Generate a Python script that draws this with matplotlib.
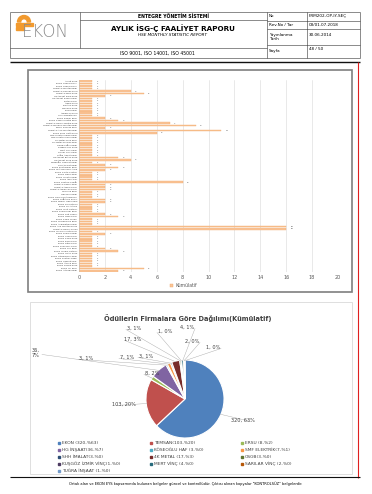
import math
import matplotlib
matplotlib.use("Agg")
import matplotlib.pyplot as plt
from matplotlib.patches import Rectangle, Wedge

W, H = 372, 494

# ---------------- data ----------------
team_labels = """Asfalt Ekibi
EKON Saha Ekibi 1
EKON Saha Ekibi 2
TEMSAN Montaj Ekibi
TEMSAN Kaynak Ekibi
TEMSAN Boru Ekibi
HG İnşaat Kalıp Ekibi
HG İnşaat Demir Ekibi
Beton Ekibi
İskele Ekibi
Elektrik Ekibi
Mekanik Ekibi
Boya Ekibi
İzolasyon Ekibi
Vinç Operatörleri
EKON Bakım Ekibi
EKON Kazan Montaj Ekibi
TEMSAN Türbin Montaj Ekibi
TEMSAN Mekanik Montaj Ekibi
ERSU Kaynak Ekibi
TEMSAN Ana Montaj Ekibi
EKON Boru Hattı Ekibi
SMF Elektrik Kablo Ekibi
SMF Elektrik Pano Ekibi
4K Metal Çelik Ekibi
4K Metal Kaynak Ekibi
OSGB Sağlık Ekibi
Kuşgöz Vinç Ekibi
Mert Vinç Ekibi
Sarılar Vinç Ekibi
Tuğra İnşaat Ekibi
HG İnşaat Beton Ekibi
HG İnşaat Saha Ekibi
Köseoğlu Hafriyat Ekibi
SHH İmalat Ekibi
EKON Enstrüman Ekibi
EKON Test Devreye Alma
EKON Kalite Kontrol
EKON Depo Ekibi
EKON Lojistik Ekibi
EKON İdari İşler
EKON Şantiye Şefliği
TEMSAN Kazan Ekibi
TEMSAN İskele Ekibi
TEMSAN İzolasyon Ekibi
Temizlik Ekibi
Güvenlik Ekibi
EKON Çelik Konstrüksiyon
EKON Soğutma Kulesi
EKON Kömür Hazırlama
EKON Kül Sistemi
EKON Su Arıtma
EKON Yakıt Sistemi
EKON Kompresör Ekibi
EKON Şalt Sahası
EKON Trafo Ekibi
EKON Kablo Tavası
EKON Topraklama Ekibi
EKON Aydınlatma Ekibi
EKON Ana Montaj Grubu
TEMSAN Türbin Grubu
EKON Yardımcı Sistemler
EKON Pompa Ekibi
EKON Vana Ekibi
EKON Kanal Ekibi
EKON Baca Ekibi
EKON Filtre Ekibi
EKON Konveyör Ekibi
EKON Silo Ekibi
EKON Yangın Sistemi
EKON HVAC Ekibi
EKON Otomasyon Ekibi
EKON Kontrol Odası
EKON Laboratuvar
EKON Atölye Ekibi
EKON Peyzaj Ekibi
EKON Yol Ekibi
EKON Altyapı Ekibi""".split("\n")

team_values = [1, 1, 1, 1, 4, 5, 2, 1, 1, 1, 1, 1, 1, 1, 1, 2, 3, 7, 9, 2,
               11, 6, 1, 1, 1, 1, 1, 1, 1, 1, 1, 3, 4, 1, 2, 3, 2, 1, 1, 1,
               1, 8, 2, 2, 2, 1, 1, 1, 2, 2, 1, 1, 1, 1, 2, 3, 1, 1, 1, 16,
               16, 1, 2, 1, 1, 1, 1, 1, 2, 3, 1, 1, 1, 1, 1, 1, 5, 3]

firms = ["EKON", "TEMSAN", "ERSU", "HG İNŞAAT", "KÖSEOĞLU HAF", "SMF ELEKTRİK",
         "SHH İMALAT", "4K METAL", "OSGB", "KUŞGÖZ İZMİR VİNÇ", "MERT VİNÇ",
         "SARILAR VİNÇ", "TUĞRA İNŞAAT"]
firm_values = [320, 103, 8, 36, 3, 7, 3, 17, 3, 1, 4, 2, 1]
firm_legend = ["EKON (320-%63)", "TEMSAN(103-%20)", "ERSU (8-%2)",
               "HG İNŞAAT(36-%7)", "KÖSEOĞLU HAF (3-%0)", "SMF ELEKTRİK(7-%1)",
               "SHH İMALAT(3-%0)", "4K METAL (17-%3)", "OSGB(3-%0)",
               "KUŞGÖZ İZMİR VİNÇ(1-%0)", "MERT VİNÇ (4-%0)", "SARILAR VİNÇ (2-%0)",
               "TUĞRA İNŞAAT (1-%0)"]
x_ticks = [0, 2, 4, 6, 8, 10, 12, 14, 16, 18, 20]

# ---------------- style / layout ----------------
pie_colors = ["#4F81BD", "#C0504D", "#9BBB59", "#8064A2", "#4BACC6", "#F79646",
              "#2C4D75", "#772C2A", "#5F7530", "#4D3B62", "#276A7C", "#B65708",
              "#729ACA"]
# label text centres (pixels) for pie data labels
pie_label_pos = [(243, 420), (124, 404), (152, 373), (36, 353), (86, 358),
                 (127, 357), (146, 356), (133, 339), (134, 328), (165, 331),
                 (187, 327), (192, 341), (213, 347)]

plt.rcParams['font.family'] = ['DejaVu Sans']

fig = plt.figure(figsize=(W / 100, H / 100), dpi=100)
fig.patch.set_facecolor("white")

page = fig.add_axes([0, 0, 1, 1], zorder=-5)
page.set_xlim(0, W)
page.set_ylim(H, 0)
page.axis("off")

def hline(y, x0, x1, c="#333333", lw=0.4):
    page.plot([x0, x1], [y, y], color=c, lw=lw, solid_capstyle="butt")

def vline(x, y0, y1, c="#333333", lw=0.4):
    page.plot([x, x], [y0, y1], color=c, lw=lw, solid_capstyle="butt")

# ---- header table ----
hline(12, 10, 360)
hline(58, 10, 360)
vline(10, 12, 58)
vline(360, 12, 58)
vline(80, 12, 48)
vline(267, 12, 58)
vline(307, 12, 58)
hline(20, 80, 267)
hline(48, 10, 267)
hline(21, 267, 360)
hline(29, 267, 360)
hline(45, 267, 360)

page.text(173, 16, "ENTEGRE YÖNETİM SİSTEMİ", ha="center", va="center",
          fontsize=3.3, fontweight="bold")
page.text(173, 28, "AYLIK İSG-Ç FAALİYET RAPORU", ha="center", va="center",
          fontsize=5.2, fontweight="bold")
page.text(173, 35, "HSE MONTHLY STATISTIC REPORT", ha="center", va="center",
          fontsize=3.0, style="italic")
page.text(157, 53, "ISO 9001, ISO 14001, ISO 45001", ha="center", va="center",
          fontsize=3.3)
for y, t in [(16, "No"), (25, "Rev.No / Tar"), (37, "Yayınlanma\nTarih"), (51, "Sayfa")]:
    page.text(269, y, t, ha="left", va="center", fontsize=3.0, linespacing=1.0)
for y, t in [(16, "FRM202-OP-IY-SEÇ"), (25, "03/01.07.2018"), (35, "30.06.2014"), (49, "48 / 50")]:
    page.text(309, y, t, ha="left", va="center", fontsize=3.0)

# logo
page.add_patch(Wedge((24, 22), 6.5, 180, 360, width=3.2, color="#F29A2E",
                     transform=page.transData))
page.add_patch(Rectangle((16, 23), 17, 2.6, color="#F29A2E"))
page.add_patch(Rectangle((16, 27.5), 8, 2.6, color="#F29A2E"))
page.text(22, 32, "EKON", ha="left", va="center", fontsize=12,
          color="#8C8C8C", fontweight="light")

# page separators
hline(62, 10, 360, c="#111111", lw=1.0)
vline(358, 62, 478, c="#E02020", lw=0.8)
hline(477, 10, 360, c="#111111", lw=0.8)
page.text(186, 484, "Ortak alan ve EKON EYS kapsamında bulunan belgeler güncel ve kontrollüdür. "
          "Çıktısı alınan kopyalar \"KONTROLSÜZ\" belgelerdir.",
          ha="center", va="center", fontsize=2.6)

# chart panels
page.add_patch(Rectangle((28, 70), 324, 222, fill=False, ec="#7F7F7F", lw=1.2))
page.add_patch(Rectangle((30, 302), 322, 172, fill=False, ec="#D9D9D9", lw=0.6))

# ---------------- bar chart ----------------
def px_axes(x0, y0, x1, y1, **kw):
    return fig.add_axes([x0 / W, 1 - y1 / H, (x1 - x0) / W, (y1 - y0) / H], **kw)

axb = px_axes(79, 80, 338, 272)
n = len(team_values)
ypos = list(range(n))
axb.barh(ypos, team_values, height=0.6, color="#FAC598", edgecolor="#F0A868",
         linewidth=0.25)
axb.set_xlim(0, 20)
axb.set_ylim(n - 0.5, -0.5)
axb.set_xticks(x_ticks)
axb.set_xticklabels([str(t) for t in x_ticks], fontsize=3.5, color="#595959")
axb.set_yticks(ypos)
axb.set_yticklabels(team_labels, fontsize=1.6, color="#404040")
axb.tick_params(length=0, pad=1.5)
axb.tick_params(axis="x", pad=2.5)
axb.grid(axis="x", color="#D9D9D9", lw=0.4)
axb.set_axisbelow(True)
for s in axb.spines.values():
    s.set_visible(False)
axb.axvline(0, color="#BFBFBF", lw=0.4)
for i, v in enumerate(team_values):
    axb.text(v + 0.35, i, str(v), fontsize=1.6, va="center", ha="left", color="#404040")

page.text(198, 88, "Ödüllerin Ekiplere Göre Dağılımları", ha="center", va="center",
          fontsize=4.6, fontweight="bold", color="#404040", zorder=10)
page.text(198, 100, "(Kümülatif)", ha="center", va="center",
          fontsize=4.6, fontweight="bold", color="#404040", zorder=10)
page.add_patch(Rectangle((170, 284), 3, 3, color="#FAC598", ec="#F0A868", lw=0.3))
page.text(175, 285.5, "Kümülatif", ha="left", va="center", fontsize=3.3, color="#595959")

# ---------------- pie chart ----------------
axp = px_axes(30, 302, 352, 474)
axp.axis("off")
cx, cy, R = 185, -399, 39
total = sum(firm_values)
wedges, _ = axp.pie(firm_values, center=(cx, cy), radius=R, startangle=90,
                    counterclock=False, colors=pie_colors,
                    explode=[0.05] * len(firm_values),
                    wedgeprops=dict(edgecolor="white", linewidth=0.8))
axp.set_xlim(30, 352)
axp.set_ylim(-474, -302)
axp.set_aspect("auto")
for w, v, (lx, ly) in zip(wedges, firm_values, pie_label_pos):
    pct = round(100 * v / total)
    txt = f"{v},\n{pct}%" if v == 36 else f"{v}, {pct}%"
    axp.text(lx, -ly, txt, ha="center", va="center", fontsize=3.6, color="#404040")
    ang = math.radians((w.theta1 + w.theta2) / 2)
    wx, wy = w.center
    ex = wx + w.r * 0.98 * math.cos(ang)
    ey = wy + w.r * 0.98 * math.sin(ang)
    if v == 36:
        sx = lx + 6
    else:
        sx = lx + (-8 if lx < ex else 8)
    axp.plot([sx, ex], [-ly - 1.5, ey], color="#A6A6A6", lw=0.3)

page.text(188, 318, "Ödüllerin Firmalara Göre Dağılımı(Kümülatif)", ha="center",
          va="center", fontsize=4.8, fontweight="bold", color="#404040")

# legend (row-major, 3 columns)
col_x = [58, 150, 241]
row_y = [443, 450, 457, 464, 471]
for i, (lab, c) in enumerate(zip(firm_legend, pie_colors)):
    r, k = divmod(i, 3)
    page.add_patch(Rectangle((col_x[k], row_y[r] - 1.2), 2.4, 2.4, color=c))
    page.text(col_x[k] + 4, row_y[r], lab, ha="left", va="center", fontsize=3.2,
              color="#404040")

fig.savefig("out.png", dpi=100, facecolor="white")
